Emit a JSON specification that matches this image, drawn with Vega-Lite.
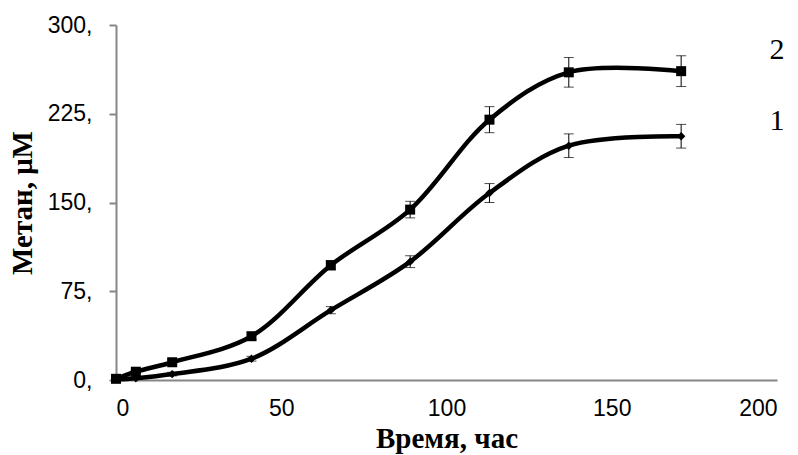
{
  "$schema": "https://vega.github.io/schema/vega-lite/v6.json",
  "autosize": "none",
  "width": 661,
  "height": 355,
  "padding": {"left": 116, "top": 25, "right": 21, "bottom": 75},
  "background": "white",
  "config": {"view": {"stroke": null}},
  "datasets": {
    "pts": [
      {"series": "2", "t": 0, "v": 1, "err": 1},
      {"series": "2", "t": 6, "v": 7, "err": 1.5},
      {"series": "2", "t": 17, "v": 15, "err": 2},
      {"series": "2", "t": 41, "v": 37, "err": 3},
      {"series": "2", "t": 65, "v": 97, "err": 4},
      {"series": "2", "t": 89, "v": 144, "err": 7},
      {"series": "2", "t": 113, "v": 220, "err": 11},
      {"series": "2", "t": 137, "v": 260, "err": 12.5},
      {"series": "2", "t": 171, "v": 261, "err": 13},
      {"series": "1", "t": 0, "v": 0.5, "err": 0.5},
      {"series": "1", "t": 6, "v": 1.5, "err": 1},
      {"series": "1", "t": 17, "v": 5, "err": 1.5},
      {"series": "1", "t": 41, "v": 18, "err": 2},
      {"series": "1", "t": 65, "v": 59, "err": 3},
      {"series": "1", "t": 89, "v": 100, "err": 5},
      {"series": "1", "t": 113, "v": 158, "err": 8},
      {"series": "1", "t": 137, "v": 198, "err": 10},
      {"series": "1", "t": 171, "v": 206, "err": 10}
    ],
    "labels": [
      {"label": "2", "t": 200, "v": 279},
      {"label": "1", "t": 200, "v": 219}
    ]
  },
  "layer": [
    {
      "data": {"name": "pts"},
      "mark": {"type": "errorbar", "ticks": {"size": 10, "thickness": 1, "color": "black"}, "rule": {"strokeWidth": 1, "color": "black"}},
      "encoding": {
        "x": {"field": "t", "type": "quantitative", "scale": {"domain": [0, 200], "nice": false},
          "axis": {"values": [0, 50, 100, 150, 200], "title": "Время, час", "grid": false, "ticks": false,
            "domainColor": "#868686", "domainWidth": 2, "labelFont": "Liberation Sans", "labelFontSize": 23,
            "labelColor": "black", "labelPadding": 17, "titleFont": "Liberation Serif", "titleFontSize": 29,
            "titleFontWeight": "bold", "titleColor": "black", "titlePadding": 4}},
        "y": {"field": "v", "type": "quantitative", "scale": {"domain": [0, 300], "nice": false},
          "axis": {"values": [0, 75, 150, 225, 300], "labelExpr": "datum.label + ','", "title": "Метан, μM", "grid": false,
            "tickColor": "#868686", "tickWidth": 2, "tickSize": 7, "domainColor": "#868686", "domainWidth": 2,
            "labelFont": "Liberation Sans", "labelFontSize": 23, "labelColor": "black", "labelPadding": 17,
            "titleFont": "Liberation Serif", "titleFontSize": 29, "titleFontWeight": "bold", "titleColor": "black", "titlePadding": 10}},
        "yError": {"field": "err"},
        "detail": {"field": "series"}
      }
    },
    {
      "data": {"name": "pts"},
      "mark": {"type": "line", "interpolate": "catmull-rom", "strokeWidth": 4.5, "color": "black"},
      "encoding": {
        "x": {"field": "t", "type": "quantitative"},
        "y": {"field": "v", "type": "quantitative"},
        "detail": {"field": "series"}
      }
    },
    {
      "data": {"name": "pts"},
      "mark": {"type": "point", "filled": true, "color": "black", "opacity": 1},
      "encoding": {
        "x": {"field": "t", "type": "quantitative"},
        "y": {"field": "v", "type": "quantitative"},
        "shape": {"field": "series", "type": "nominal", "scale": {"domain": ["1", "2"], "range": ["diamond", "square"]}, "legend": null},
        "size": {"field": "series", "type": "nominal", "scale": {"domain": ["1", "2"], "range": [70, 100]}, "legend": null}
      }
    },
    {
      "data": {"name": "labels"},
      "mark": {"type": "text", "font": "Liberation Serif", "fontSize": 30, "color": "black", "align": "center", "baseline": "middle"},
      "encoding": {
        "x": {"field": "t", "type": "quantitative"},
        "y": {"field": "v", "type": "quantitative"},
        "text": {"field": "label"}
      }
    }
  ]
}
